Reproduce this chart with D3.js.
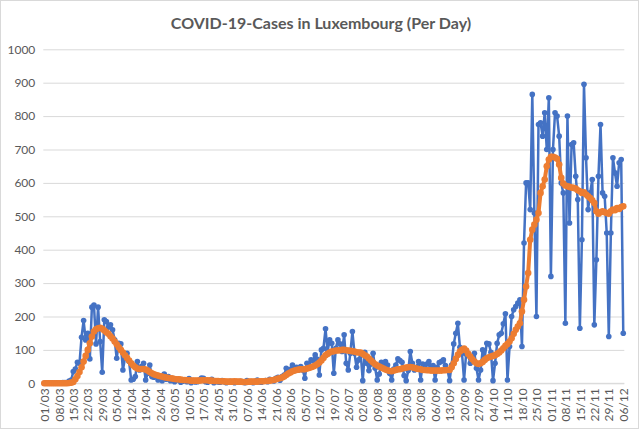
<!DOCTYPE html>
<html>
<head>
<meta charset="utf-8">
<script src="https://cdn.jsdelivr.net/npm/d3@7"></script>
<style>
  html, body { margin: 0; padding: 0; background: #fff; }
  svg { display: block; font-family: Lato, "Open Sans", sans-serif; }
</style>
</head>
<body>
<div id="chart"></div>
<script>
var title = "COVID-19-Cases in Luxembourg (Per Day)";

// one label every 7 days, starting 01/03
var tickLabels = ["01/03","08/03","15/03","22/03","29/03","05/04","12/04","19/04","26/04",
  "03/05","10/05","17/05","24/05","31/05","07/06","14/06","21/06","28/06","05/07","12/07",
  "19/07","26/07","02/08","09/08","16/08","23/08","30/08","06/09","13/09","20/09","27/09",
  "04/10","11/10","18/10","25/10","01/11","08/11","15/11","22/11","29/11","06/12"];
var yTicks = [0, 100, 200, 300, 400, 500, 600, 700, 800, 900, 1000];

// daily cases (blue), month by month
var casesMar = [0,0,0,0,1,0,1,0,1,2, 2,2,7,10,35,43,63,60,138,188, 130,150,73,228,234,118,228,125,33,190, 185];
var casesApr = [168,175,160,130,75,120,118,40,75,90, 65,10,12,20,65,40,50,60,10,30, 55,20,18,25,10,22,8,28,12,20];
var casesMay = [8,15,5,10,12,3,6,10,5,14, 2,8,4,5,10,16,15,5,3,8, 12,2,6,4,3,8,5,2,4,6, 3];
var casesJun = [2,5,3,6,4,2,8,3,5,2, 6,10,4,3,6,8,5,12,10,7, 15,18,9,20,25,45,30,42,55,38];
var casesJul = [48,40,50,40,15,60,55,70,68,85, 72,25,100,105,163,95,130,120,30,105, 130,118,95,145,60,40,90,155,90,48, 70];
var casesAug = [90,8,93,60,38,58,90,45,10,28, 63,48,65,55,30,10,43,55,73,68, 63,23,8,38,95,60,40,48,65,10, 58];
var casesSep = [45,58,65,50,53,10,48,62,65,70, 53,40,8,55,118,150,180,108,90,10, 88,85,60,68,90,45,10,40,100,78];
var casesOct = [120,118,93,8,60,120,145,150,178,208, 10,110,200,220,230,240,250,110,420,600, 600,520,865,510,200,775,780,740,810,700, 855];
var casesNov = [320,700,810,800,740,600,570,180,800,480, 715,720,620,550,165,430,895,675,520,570, 610,175,370,620,775,570,560,450,140,450];
var casesDec = [675,630,590,660,670,150];

// 7-day average (orange), month by month
var avgMar = [0,0,0,0,0,0,0,0,0,0, 0,0,1,2,4,12,22,34,48,65, 82,100,120,140,155,162,165,166,163,158, 153];
var avgApr = [148,141,134,125,117,108,100,92,84,76, 68,60,53,48,44,43,43,43,41,38, 34,30,27,25,23,21,20,18,17,16];
var avgMay = [15,14,13,12,12,11,10,10,9,9, 8,8,8,8,8,9,9,9,9,8, 8,7,7,7,6,6,6,5,5,5, 5];
var avgJun = [6,5,5,5,4,4,4,5,5,5, 5,5,6,6,6,7,7,8,9,10, 12,14,15,17,20,25,29,32,36,38];
var avgJul = [40,41,42,42,42,44,46,48,50,53, 57,62,68,76,84,88,92,95,96,98, 98,99,100,100,99,98,97,96,95,93, 92];
var avgAug = [92,88,84,80,74,68,62,57,53,50, 47,44,41,39,37,36,38,40,42,42, 44,46,47,48,49,48,46,44,43,42, 40];
var avgSep = [40,39,39,38,38,38,38,38,38,39, 39,40,40,48,60,73,85,95,100,104, 98,88,80,72,65,60,58,60,64,70];
var avgOct = [75,78,80,82,84,88,92,98,105,112, 118,125,135,148,160,170,180,215,250,290, 330,430,460,475,490,510,570,590,610,650, 670];
var avgNov = [678,678,676,672,655,615,598,592,590,588, 586,585,583,578,575,570,572,565,560,555, 548,540,515,508,512,515,512,510,508,515];
var avgDec = [520,518,525,522,528,530];

var cases = [].concat(casesMar, casesApr, casesMay, casesJun, casesJul, casesAug, casesSep, casesOct, casesNov, casesDec);
var avg = [].concat(avgMar, avgApr, avgMay, avgJun, avgJul, avgAug, avgSep, avgOct, avgNov, avgDec);

var width = 639, height = 429;
var plot = { left: 43.3, right: 624.3, top: 49.3, bottom: 383.3 };

var svg = d3.select('#chart')
  .append('svg')
    .attr('width', width)
    .attr('height', height);

// chart area border
svg.append('rect')
  .attr('x', 0.5).attr('y', 0.5)
  .attr('width', width - 1).attr('height', height - 1)
  .attr('fill', '#fff')
  .attr('stroke', '#D9D9D9');

svg.append('text')
  .attr('x', 321)
  .attr('y', 29)
  .attr('text-anchor', 'middle')
  .attr('font-size', '16px')
  .attr('font-weight', 'bold')
  .attr('fill', '#595959')
  .text(title);

var days = d3.range(cases.length);
var x = d3.scalePoint().domain(days).range([plot.left, plot.right]).padding(0.5);
var y = d3.scaleLinear().domain([0, 1000]).range([plot.bottom, plot.top]);

// value axis + gridlines
var yAxis = svg.append('g')
  .attr('transform', 'translate(' + plot.left + ',0)')
  .call(d3.axisLeft(y)
    .tickValues(yTicks)
    .tickSize(-(plot.right - plot.left))
    .tickPadding(8)
    .tickFormat(d3.format('d')));
yAxis.select('.domain').remove();
yAxis.selectAll('line').attr('stroke', '#D9D9D9');
yAxis.selectAll('text')
  .attr('fill', '#595959')
  .attr('font-size', '12px')
  .attr('font-family', 'Lato, sans-serif');

// category axis, rotated date labels
var xAxis = svg.append('g')
  .attr('transform', 'translate(0,' + plot.bottom + ')')
  .call(d3.axisBottom(x)
    .tickValues(days.filter(function (d) { return d % 7 === 0; }))
    .tickSize(0)
    .tickFormat(function (d) { return tickLabels[d / 7]; }));
xAxis.select('.domain')
  .attr('stroke', '#D9D9D9')
  .attr('d', 'M' + plot.left + ',0H' + plot.right);
xAxis.selectAll('text')
  .attr('transform', 'rotate(-90)')
  .attr('text-anchor', 'end')
  .attr('x', -5)
  .attr('y', 0)
  .attr('dy', '0.35em')
  .attr('fill', '#595959')
  .attr('font-size', '12px')
  .attr('font-family', 'Lato, sans-serif');

var line = d3.line()
  .x(function (d, i) { return x(i); })
  .y(function (d) { return y(d); });

function drawSeries(values, color, w, r) {
  var g = svg.append('g');
  g.append('path')
    .datum(values)
    .attr('fill', 'none')
    .attr('stroke', color)
    .attr('stroke-width', w)
    .attr('stroke-linejoin', 'round')
    .attr('d', line);
  g.selectAll('circle')
    .data(values)
    .enter()
      .append('circle')
        .attr('cx', function (d, i) { return x(i); })
        .attr('cy', function (d) { return y(d); })
        .attr('r', r)
        .attr('fill', color);
}

drawSeries(cases, '#4472C4', 2.5, 2.8);
drawSeries(avg, '#ED7D31', 4, 3.3);
</script>
</body>
</html>
